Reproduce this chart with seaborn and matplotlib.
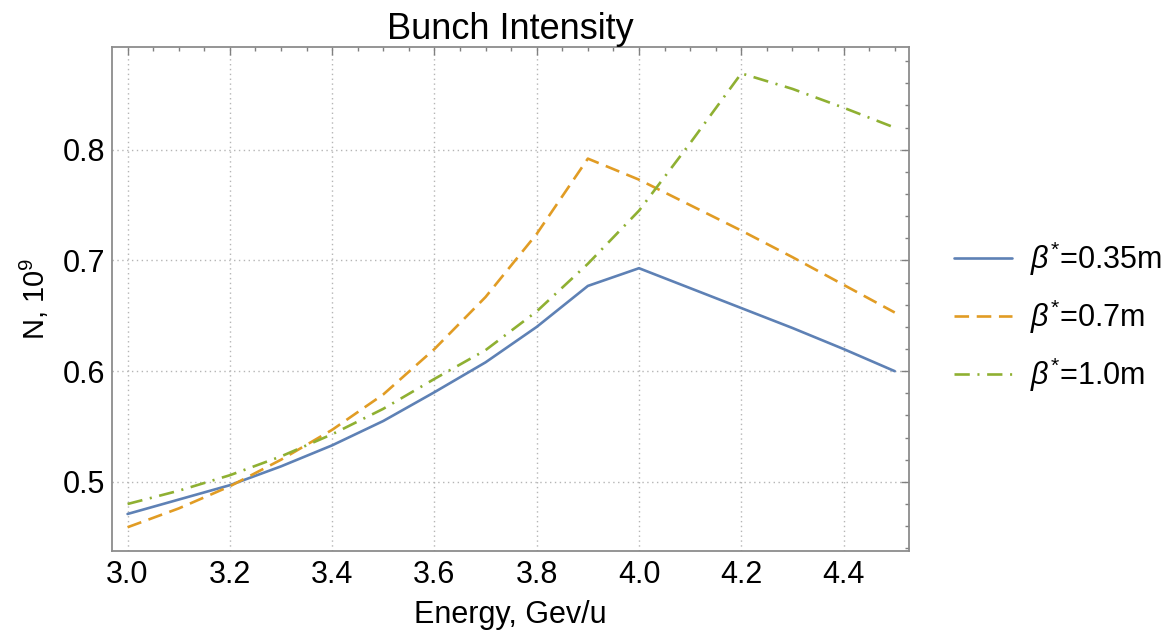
import numpy as np
import pandas as pd
import matplotlib
matplotlib.use("Agg")
import matplotlib.pyplot as plt
import seaborn as sns
from matplotlib.ticker import MultipleLocator

# ---- data ----
energy = [3.0, 3.1, 3.2, 3.3, 3.4, 3.5, 3.6, 3.7, 3.8, 3.9, 4.0, 4.1, 4.2, 4.3, 4.4, 4.5]
n_035 = [0.471, 0.484, 0.497, 0.514, 0.533, 0.555, 0.581, 0.608, 0.640, 0.677, 0.693, 0.675, 0.657, 0.639, 0.620, 0.600]
n_07 = [0.459, 0.476, 0.496, 0.520, 0.547, 0.579, 0.620, 0.667, 0.724, 0.792, 0.773, 0.750, 0.727, 0.703, 0.678, 0.653]
n_10 = [0.480, 0.492, 0.506, 0.523, 0.543, 0.566, 0.593, 0.619, 0.654, 0.697, 0.745, 0.806, 0.869, 0.855, 0.838, 0.820]
series_labels = [r"$\beta^{*}$=0.35m", r"$\beta^{*}$=0.7m", r"$\beta^{*}$=1.0m"]
title = "Bunch Intensity"
xlabel = "Energy, Gev/u"
ylabel = r"N, $10^{9}$"

df = pd.concat([
    pd.DataFrame({"E": energy, "N": vals, "beta": lab})
    for vals, lab in zip([n_035, n_07, n_10], series_labels)
], ignore_index=True)

# ---- style ----
sns.set_theme(style="white")
plt.rcParams["font.family"] = ["Liberation Sans", "DejaVu Sans"]
plt.rcParams["mathtext.fontset"] = "custom"
plt.rcParams["mathtext.rm"] = "Liberation Sans"
plt.rcParams["mathtext.it"] = "Liberation Sans:italic"
plt.rcParams["mathtext.bf"] = "Liberation Sans:bold"
plt.rcParams["lines.scale_dashes"] = False
plt.rcParams["text.color"] = "black"

colors = ["#5E81B5", "#E19C24", "#8FB032"]
palette = dict(zip(series_labels, colors))
dashes = {
    series_labels[0]: "",
    series_labels[1]: (10.5, 5.5),
    series_labels[2]: (11, 5.5, 1.5, 5.5),
}

fig = plt.figure(figsize=(11.76, 6.4), dpi=100)
ax = fig.add_axes([0.095, 0.1395, 0.678, 0.787])

sns.lineplot(data=df, x="E", y="N", hue="beta", style="beta",
             palette=palette, dashes=dashes, linewidth=1.9, ax=ax,
             legend=True)

ax.set_xlim(2.969, 4.528)
ax.set_ylim(0.4378, 0.8928)
ax.xaxis.set_major_locator(MultipleLocator(0.2))
ax.xaxis.set_minor_locator(MultipleLocator(0.05))
ax.yaxis.set_major_locator(MultipleLocator(0.1))
ax.yaxis.set_minor_locator(MultipleLocator(0.02))
ax.xaxis.set_major_formatter(matplotlib.ticker.FormatStrFormatter("%.1f"))
ax.yaxis.set_major_formatter(matplotlib.ticker.FormatStrFormatter("%.1f"))

ax.tick_params(which="both", direction="in", top=True, right=True,
               color="#808080", labelsize=22, labelcolor="black")
ax.tick_params(which="major", length=5.5, width=1)
ax.tick_params(which="minor", length=3, width=1)
ax.tick_params(axis="x", pad=7)
ax.tick_params(axis="y", pad=5)

for sp in ax.spines.values():
    sp.set_color("#8c8c8c")
    sp.set_linewidth(1.3)

ax.grid(True, which="major", linestyle=(0, (1, 2.5)), color="#b5b5b5", linewidth=1)

ax.set_title(title, fontsize=26, pad=6, color="black")
ax.set_xlabel(xlabel, fontsize=22, labelpad=7, color="black")
ax.set_ylabel(ylabel, fontsize=21, labelpad=8, color="black")

leg = ax.legend(loc="center left", bbox_to_anchor=(0.798, 0.505),
                bbox_transform=fig.transFigure, frameon=False,
                fontsize=22, handlelength=1.9, handletextpad=0.6,
                labelspacing=0.65, borderpad=0, title=None)
for line in leg.get_lines():
    line.set_linewidth(1.9)
for t in leg.get_texts():
    t.set_color("black")

fig.savefig("out.png", dpi=100, facecolor="white")
